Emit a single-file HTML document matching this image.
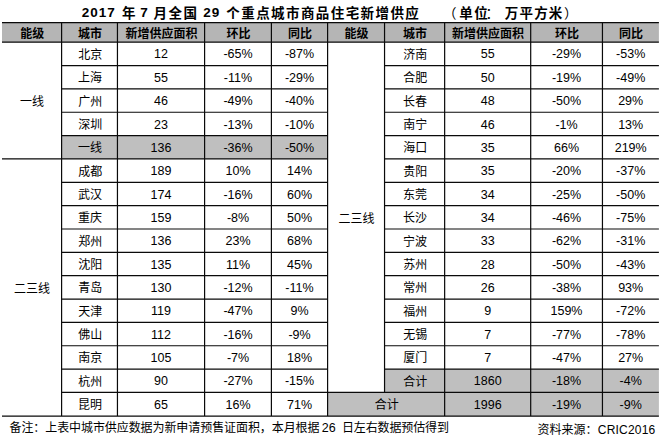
<!DOCTYPE html>
<html lang="zh-CN"><head><meta charset="utf-8"><title>2017年7月全国29个重点城市商品住宅新增供应</title>
<style>
html,body{margin:0;padding:0;background:#fff}
body{width:662px;height:446px;position:relative;overflow:hidden;font-family:"Liberation Sans",sans-serif;color:#000}
svg.t{position:absolute;overflow:visible;display:block}
svg.t text{font-family:"Liberation Sans","Noto Sans CJK SC",sans-serif;fill:#000;text-anchor:middle;font-size:12px}
svg.t text.h{font-weight:bold}
svg.t text.n{font-size:12.5px}
svg.t text.tt{font-weight:bold;font-size:13.5px;text-anchor:start}
svg.t text.s{text-anchor:start}
</style></head>
<body>
<svg class="t" style="left:0;top:0" width="662" height="446" viewBox="0 0 662 446"><rect x="2" y="22.55" width="656.9" height="19.65" fill="#b5b5b5"/><rect x="61.6" y="135.6" width="266" height="23.35" fill="#bfbfbf"/><rect x="384.55" y="369.1" width="274.35" height="23.25" fill="#bfbfbf"/><rect x="327.6" y="392.35" width="331.3" height="23.8" fill="#bfbfbf"/><path d="M2 22.55H658.9M2 42.2H658.9M2 416.15H658.9M61 65.55H328.2M383.95 65.55H658.9M61 88.9H328.2M383.95 88.9H658.9M61 112.25H328.2M383.95 112.25H658.9M61 135.6H328.2M383.95 135.6H658.9M2 158.95H328.2M383.95 158.95H658.9M61 182.3H328.2M383.95 182.3H658.9M61 205.65H328.2M383.95 205.65H658.9M61 229H328.2M383.95 229H658.9M61 252.35H328.2M383.95 252.35H658.9M61 275.7H328.2M383.95 275.7H658.9M61 299.05H328.2M383.95 299.05H658.9M61 322.4H328.2M383.95 322.4H658.9M61 345.75H328.2M383.95 345.75H658.9M61 369.1H328.2M383.95 369.1H658.9M61 392.35H328.2M327 392.35H658.9M61.6 21.95V416.75M117.45 21.95V416.75M204.6 21.95V416.75M271.4 21.95V416.75M327.6 21.95V416.75M384.55 21.95V392.95M444.65 21.95V416.75M530.7 21.95V416.75M602.45 21.95V416.75" stroke="#0a0a0a" stroke-width="1.2" fill="none"/></svg>
<svg class="t" role="img" aria-label="能级" style="left:18px;top:26px" width="29" height="16" viewBox="0 0 29 16"><title>能级</title><text class="h" x="14.2" y="12">能级</text></svg>
<svg class="t" role="img" aria-label="城市" style="left:76px;top:26px" width="29" height="16" viewBox="0 0 29 16"><title>城市</title><text class="h" x="14" y="12">城市</text></svg>
<svg class="t" role="img" aria-label="新增供应面积" style="left:125px;top:26px" width="74" height="16" viewBox="0 0 74 16"><title>新增供应面积</title><text class="h" x="36.5" y="12">新增供应面积</text></svg>
<svg class="t" role="img" aria-label="环比" style="left:225px;top:26px" width="28" height="16" viewBox="0 0 28 16"><title>环比</title><text class="h" x="13.4" y="12">环比</text></svg>
<svg class="t" role="img" aria-label="同比" style="left:286px;top:26px" width="28" height="16" viewBox="0 0 28 16"><title>同比</title><text class="h" x="13.9" y="12">同比</text></svg>
<svg class="t" role="img" aria-label="能级" style="left:343px;top:26px" width="28" height="16" viewBox="0 0 28 16"><title>能级</title><text class="h" x="13.5" y="12">能级</text></svg>
<svg class="t" role="img" aria-label="城市" style="left:401px;top:26px" width="29" height="16" viewBox="0 0 29 16"><title>城市</title><text class="h" x="14" y="12">城市</text></svg>
<svg class="t" role="img" aria-label="新增供应面积" style="left:451px;top:26px" width="75" height="16" viewBox="0 0 75 16"><title>新增供应面积</title><text class="h" x="37" y="12">新增供应面积</text></svg>
<svg class="t" role="img" aria-label="环比" style="left:553px;top:26px" width="29" height="16" viewBox="0 0 29 16"><title>环比</title><text class="h" x="14" y="12">环比</text></svg>
<svg class="t" role="img" aria-label="同比" style="left:617px;top:26px" width="29" height="16" viewBox="0 0 29 16"><title>同比</title><text class="h" x="14" y="12">同比</text></svg>
<svg class="t" role="img" aria-label="北京" style="left:78px;top:47px" width="26" height="16" viewBox="0 0 26 16"><title>北京</title><text x="12.3" y="12">北京</text></svg>
<svg class="t" role="img" aria-label="12" style="left:153px;top:44px" width="16" height="20" viewBox="0 0 16 20"><title>12</title><text class="n" x="8" y="14.4">12</text></svg>
<svg class="t" role="img" aria-label="-65%" style="left:223px;top:44px" width="30" height="20" viewBox="0 0 30 20"><title>-65%</title><text class="n" x="15" y="14.4">-65%</text></svg>
<svg class="t" role="img" aria-label="-87%" style="left:285px;top:44px" width="30" height="20" viewBox="0 0 30 20"><title>-87%</title><text class="n" x="14.5" y="14.4">-87%</text></svg>
<svg class="t" role="img" aria-label="上海" style="left:77px;top:70px" width="26" height="16" viewBox="0 0 26 16"><title>上海</title><text x="13" y="12">上海</text></svg>
<svg class="t" role="img" aria-label="55" style="left:153px;top:68px" width="17" height="19" viewBox="0 0 17 19"><title>55</title><text class="n" x="8" y="13.8">55</text></svg>
<svg class="t" role="img" aria-label="-11%" style="left:223px;top:68px" width="30" height="19" viewBox="0 0 30 19"><title>-11%</title><text class="n" x="15" y="13.8">-11%</text></svg>
<svg class="t" role="img" aria-label="-29%" style="left:285px;top:68px" width="30" height="19" viewBox="0 0 30 19"><title>-29%</title><text class="n" x="14.5" y="13.8">-29%</text></svg>
<svg class="t" role="img" aria-label="广州" style="left:78px;top:94px" width="26" height="16" viewBox="0 0 26 16"><title>广州</title><text x="12.3" y="12">广州</text></svg>
<svg class="t" role="img" aria-label="46" style="left:153px;top:91px" width="17" height="20" viewBox="0 0 17 20"><title>46</title><text class="n" x="8" y="14.2">46</text></svg>
<svg class="t" role="img" aria-label="-49%" style="left:223px;top:91px" width="30" height="20" viewBox="0 0 30 20"><title>-49%</title><text class="n" x="15" y="14.2">-49%</text></svg>
<svg class="t" role="img" aria-label="-40%" style="left:285px;top:91px" width="30" height="20" viewBox="0 0 30 20"><title>-40%</title><text class="n" x="14.5" y="14.2">-40%</text></svg>
<svg class="t" role="img" aria-label="深圳" style="left:78px;top:117px" width="26" height="16" viewBox="0 0 26 16"><title>深圳</title><text x="12.3" y="12">深圳</text></svg>
<svg class="t" role="img" aria-label="23" style="left:153px;top:114px" width="17" height="20" viewBox="0 0 17 20"><title>23</title><text class="n" x="8" y="14.5">23</text></svg>
<svg class="t" role="img" aria-label="-13%" style="left:223px;top:114px" width="30" height="20" viewBox="0 0 30 20"><title>-13%</title><text class="n" x="15" y="14.5">-13%</text></svg>
<svg class="t" role="img" aria-label="-10%" style="left:285px;top:114px" width="30" height="20" viewBox="0 0 30 20"><title>-10%</title><text class="n" x="14.5" y="14.5">-10%</text></svg>
<svg class="t" role="img" aria-label="一线" style="left:77px;top:140px" width="26" height="16" viewBox="0 0 26 16"><title>一线</title><text x="13" y="12.2">一线</text></svg>
<svg class="t" role="img" aria-label="136" style="left:149px;top:138px" width="24" height="19" viewBox="0 0 24 19"><title>136</title><text class="n" x="12" y="13.9">136</text></svg>
<svg class="t" role="img" aria-label="-36%" style="left:223px;top:138px" width="30" height="19" viewBox="0 0 30 19"><title>-36%</title><text class="n" x="15" y="13.9">-36%</text></svg>
<svg class="t" role="img" aria-label="-50%" style="left:285px;top:138px" width="30" height="19" viewBox="0 0 30 19"><title>-50%</title><text class="n" x="14.5" y="13.9">-50%</text></svg>
<svg class="t" role="img" aria-label="成都" style="left:78px;top:164px" width="26" height="16" viewBox="0 0 26 16"><title>成都</title><text x="12.3" y="11.8">成都</text></svg>
<svg class="t" role="img" aria-label="189" style="left:149px;top:161px" width="24" height="20" viewBox="0 0 24 20"><title>189</title><text class="n" x="12" y="14.2">189</text></svg>
<svg class="t" role="img" aria-label="10%" style="left:225px;top:161px" width="25" height="20" viewBox="0 0 25 20"><title>10%</title><text class="n" x="13" y="14.2">10%</text></svg>
<svg class="t" role="img" aria-label="14%" style="left:287px;top:161px" width="25" height="20" viewBox="0 0 25 20"><title>14%</title><text class="n" x="12.5" y="14.2">14%</text></svg>
<svg class="t" role="img" aria-label="武汉" style="left:77px;top:187px" width="26" height="16" viewBox="0 0 26 16"><title>武汉</title><text x="13" y="12">武汉</text></svg>
<svg class="t" role="img" aria-label="174" style="left:149px;top:184px" width="24" height="20" viewBox="0 0 24 20"><title>174</title><text class="n" x="12" y="14.6">174</text></svg>
<svg class="t" role="img" aria-label="-16%" style="left:223px;top:184px" width="30" height="20" viewBox="0 0 30 20"><title>-16%</title><text class="n" x="15" y="14.6">-16%</text></svg>
<svg class="t" role="img" aria-label="60%" style="left:287px;top:184px" width="26" height="20" viewBox="0 0 26 20"><title>60%</title><text class="n" x="12.5" y="14.6">60%</text></svg>
<svg class="t" role="img" aria-label="重庆" style="left:77px;top:210px" width="26" height="16" viewBox="0 0 26 16"><title>重庆</title><text x="13" y="12.2">重庆</text></svg>
<svg class="t" role="img" aria-label="159" style="left:149px;top:208px" width="24" height="20" viewBox="0 0 24 20"><title>159</title><text class="n" x="12" y="13.9">159</text></svg>
<svg class="t" role="img" aria-label="-8%" style="left:227px;top:208px" width="23" height="20" viewBox="0 0 23 20"><title>-8%</title><text class="n" x="11" y="13.9">-8%</text></svg>
<svg class="t" role="img" aria-label="50%" style="left:287px;top:208px" width="26" height="20" viewBox="0 0 26 20"><title>50%</title><text class="n" x="12.5" y="13.9">50%</text></svg>
<svg class="t" role="img" aria-label="郑州" style="left:78px;top:234px" width="26" height="16" viewBox="0 0 26 16"><title>郑州</title><text x="12.3" y="11.8">郑州</text></svg>
<svg class="t" role="img" aria-label="136" style="left:149px;top:231px" width="24" height="20" viewBox="0 0 24 20"><title>136</title><text class="n" x="12" y="14.3">136</text></svg>
<svg class="t" role="img" aria-label="23%" style="left:226px;top:231px" width="25" height="20" viewBox="0 0 25 20"><title>23%</title><text class="n" x="12" y="14.3">23%</text></svg>
<svg class="t" role="img" aria-label="68%" style="left:287px;top:231px" width="26" height="20" viewBox="0 0 26 20"><title>68%</title><text class="n" x="12.5" y="14.3">68%</text></svg>
<svg class="t" role="img" aria-label="沈阳" style="left:78px;top:257px" width="26" height="16" viewBox="0 0 26 16"><title>沈阳</title><text x="12.3" y="12">沈阳</text></svg>
<svg class="t" role="img" aria-label="135" style="left:149px;top:255px" width="24" height="19" viewBox="0 0 24 19"><title>135</title><text class="n" x="12" y="13.6">135</text></svg>
<svg class="t" role="img" aria-label="11%" style="left:225px;top:255px" width="25" height="19" viewBox="0 0 25 19"><title>11%</title><text class="n" x="13" y="13.6">11%</text></svg>
<svg class="t" role="img" aria-label="45%" style="left:287px;top:255px" width="26" height="19" viewBox="0 0 26 19"><title>45%</title><text class="n" x="12.5" y="13.6">45%</text></svg>
<svg class="t" role="img" aria-label="青岛" style="left:78px;top:280px" width="26" height="16" viewBox="0 0 26 16"><title>青岛</title><text x="12.3" y="12.4">青岛</text></svg>
<svg class="t" role="img" aria-label="130" style="left:149px;top:278px" width="24" height="20" viewBox="0 0 24 20"><title>130</title><text class="n" x="12" y="14">130</text></svg>
<svg class="t" role="img" aria-label="-12%" style="left:223px;top:278px" width="30" height="20" viewBox="0 0 30 20"><title>-12%</title><text class="n" x="15" y="14">-12%</text></svg>
<svg class="t" role="img" aria-label="-11%" style="left:285px;top:278px" width="30" height="20" viewBox="0 0 30 20"><title>-11%</title><text class="n" x="14.5" y="14">-11%</text></svg>
<svg class="t" role="img" aria-label="天津" style="left:78px;top:304px" width="26" height="16" viewBox="0 0 26 16"><title>天津</title><text x="12.3" y="11.8">天津</text></svg>
<svg class="t" role="img" aria-label="119" style="left:149px;top:301px" width="24" height="20" viewBox="0 0 24 20"><title>119</title><text class="n" x="12" y="14.3">119</text></svg>
<svg class="t" role="img" aria-label="-47%" style="left:223px;top:301px" width="30" height="20" viewBox="0 0 30 20"><title>-47%</title><text class="n" x="15" y="14.3">-47%</text></svg>
<svg class="t" role="img" aria-label="9%" style="left:291px;top:301px" width="18" height="20" viewBox="0 0 18 20"><title>9%</title><text class="n" x="8.5" y="14.3">9%</text></svg>
<svg class="t" role="img" aria-label="佛山" style="left:78px;top:327px" width="26" height="16" viewBox="0 0 26 16"><title>佛山</title><text x="12.3" y="12">佛山</text></svg>
<svg class="t" role="img" aria-label="112" style="left:149px;top:325px" width="24" height="19" viewBox="0 0 24 19"><title>112</title><text class="n" x="12" y="13.7">112</text></svg>
<svg class="t" role="img" aria-label="-16%" style="left:223px;top:325px" width="30" height="19" viewBox="0 0 30 19"><title>-16%</title><text class="n" x="15" y="13.7">-16%</text></svg>
<svg class="t" role="img" aria-label="-9%" style="left:289px;top:325px" width="22" height="19" viewBox="0 0 22 19"><title>-9%</title><text class="n" x="10.5" y="13.7">-9%</text></svg>
<svg class="t" role="img" aria-label="南京" style="left:78px;top:350px" width="26" height="16" viewBox="0 0 26 16"><title>南京</title><text x="12.3" y="12.4">南京</text></svg>
<svg class="t" role="img" aria-label="105" style="left:149px;top:348px" width="24" height="20" viewBox="0 0 24 20"><title>105</title><text class="n" x="12" y="14">105</text></svg>
<svg class="t" role="img" aria-label="-7%" style="left:227px;top:348px" width="23" height="20" viewBox="0 0 23 20"><title>-7%</title><text class="n" x="11" y="14">-7%</text></svg>
<svg class="t" role="img" aria-label="18%" style="left:287px;top:348px" width="25" height="20" viewBox="0 0 25 20"><title>18%</title><text class="n" x="12.5" y="14">18%</text></svg>
<svg class="t" role="img" aria-label="杭州" style="left:78px;top:374px" width="26" height="16" viewBox="0 0 26 16"><title>杭州</title><text x="12.3" y="11.8">杭州</text></svg>
<svg class="t" role="img" aria-label="90" style="left:153px;top:371px" width="17" height="20" viewBox="0 0 17 20"><title>90</title><text class="n" x="8" y="14.3">90</text></svg>
<svg class="t" role="img" aria-label="-27%" style="left:223px;top:371px" width="30" height="20" viewBox="0 0 30 20"><title>-27%</title><text class="n" x="15" y="14.3">-27%</text></svg>
<svg class="t" role="img" aria-label="-15%" style="left:285px;top:371px" width="30" height="20" viewBox="0 0 30 20"><title>-15%</title><text class="n" x="14.5" y="14.3">-15%</text></svg>
<svg class="t" role="img" aria-label="昆明" style="left:77px;top:397px" width="26" height="16" viewBox="0 0 26 16"><title>昆明</title><text x="13" y="12.2">昆明</text></svg>
<svg class="t" role="img" aria-label="65" style="left:153px;top:395px" width="17" height="19" viewBox="0 0 17 19"><title>65</title><text class="n" x="8" y="13.9">65</text></svg>
<svg class="t" role="img" aria-label="16%" style="left:225px;top:395px" width="25" height="19" viewBox="0 0 25 19"><title>16%</title><text class="n" x="13" y="13.9">16%</text></svg>
<svg class="t" role="img" aria-label="71%" style="left:287px;top:395px" width="26" height="19" viewBox="0 0 26 19"><title>71%</title><text class="n" x="12.5" y="13.9">71%</text></svg>
<svg class="t" role="img" aria-label="济南" style="left:403px;top:47px" width="26" height="16" viewBox="0 0 26 16"><title>济南</title><text x="12.3" y="11.9">济南</text></svg>
<svg class="t" role="img" aria-label="55" style="left:480px;top:44px" width="16" height="20" viewBox="0 0 16 20"><title>55</title><text class="n" x="7.7" y="14.4">55</text></svg>
<svg class="t" role="img" aria-label="-29%" style="left:552px;top:44px" width="30" height="20" viewBox="0 0 30 20"><title>-29%</title><text class="n" x="14.5" y="14.4">-29%</text></svg>
<svg class="t" role="img" aria-label="-53%" style="left:616px;top:44px" width="30" height="20" viewBox="0 0 30 20"><title>-53%</title><text class="n" x="14.7" y="14.4">-53%</text></svg>
<svg class="t" role="img" aria-label="合肥" style="left:403px;top:70px" width="26" height="16" viewBox="0 0 26 16"><title>合肥</title><text x="12.3" y="12.2">合肥</text></svg>
<svg class="t" role="img" aria-label="50" style="left:480px;top:68px" width="16" height="19" viewBox="0 0 16 19"><title>50</title><text class="n" x="7.7" y="13.8">50</text></svg>
<svg class="t" role="img" aria-label="-19%" style="left:552px;top:68px" width="30" height="19" viewBox="0 0 30 19"><title>-19%</title><text class="n" x="14.5" y="13.8">-19%</text></svg>
<svg class="t" role="img" aria-label="-49%" style="left:616px;top:68px" width="30" height="19" viewBox="0 0 30 19"><title>-49%</title><text class="n" x="14.7" y="13.8">-49%</text></svg>
<svg class="t" role="img" aria-label="长春" style="left:402px;top:94px" width="26" height="16" viewBox="0 0 26 16"><title>长春</title><text x="13" y="11.7">长春</text></svg>
<svg class="t" role="img" aria-label="48" style="left:480px;top:91px" width="16" height="20" viewBox="0 0 16 20"><title>48</title><text class="n" x="7.7" y="14.2">48</text></svg>
<svg class="t" role="img" aria-label="-50%" style="left:552px;top:91px" width="30" height="20" viewBox="0 0 30 20"><title>-50%</title><text class="n" x="14.5" y="14.2">-50%</text></svg>
<svg class="t" role="img" aria-label="29%" style="left:618px;top:91px" width="26" height="20" viewBox="0 0 26 20"><title>29%</title><text class="n" x="12.7" y="14.2">29%</text></svg>
<svg class="t" role="img" aria-label="南宁" style="left:403px;top:117px" width="26" height="16" viewBox="0 0 26 16"><title>南宁</title><text x="12.3" y="11.9">南宁</text></svg>
<svg class="t" role="img" aria-label="46" style="left:480px;top:114px" width="16" height="20" viewBox="0 0 16 20"><title>46</title><text class="n" x="7.7" y="14.5">46</text></svg>
<svg class="t" role="img" aria-label="-1%" style="left:556px;top:114px" width="22" height="20" viewBox="0 0 22 20"><title>-1%</title><text class="n" x="10.5" y="14.5">-1%</text></svg>
<svg class="t" role="img" aria-label="13%" style="left:618px;top:114px" width="25" height="20" viewBox="0 0 25 20"><title>13%</title><text class="n" x="12.7" y="14.5">13%</text></svg>
<svg class="t" role="img" aria-label="海口" style="left:403px;top:140px" width="26" height="16" viewBox="0 0 26 16"><title>海口</title><text x="12.3" y="12.2">海口</text></svg>
<svg class="t" role="img" aria-label="35" style="left:480px;top:138px" width="16" height="19" viewBox="0 0 16 19"><title>35</title><text class="n" x="7.7" y="13.9">35</text></svg>
<svg class="t" role="img" aria-label="66%" style="left:554px;top:138px" width="26" height="19" viewBox="0 0 26 19"><title>66%</title><text class="n" x="12.5" y="13.9">66%</text></svg>
<svg class="t" role="img" aria-label="219%" style="left:615px;top:138px" width="32" height="19" viewBox="0 0 32 19"><title>219%</title><text class="n" x="15.7" y="13.9">219%</text></svg>
<svg class="t" role="img" aria-label="贵阳" style="left:403px;top:164px" width="26" height="16" viewBox="0 0 26 16"><title>贵阳</title><text x="12.3" y="11.7">贵阳</text></svg>
<svg class="t" role="img" aria-label="35" style="left:480px;top:161px" width="16" height="20" viewBox="0 0 16 20"><title>35</title><text class="n" x="7.7" y="14.2">35</text></svg>
<svg class="t" role="img" aria-label="-20%" style="left:552px;top:161px" width="30" height="20" viewBox="0 0 30 20"><title>-20%</title><text class="n" x="14.5" y="14.2">-20%</text></svg>
<svg class="t" role="img" aria-label="-37%" style="left:616px;top:161px" width="30" height="20" viewBox="0 0 30 20"><title>-37%</title><text class="n" x="14.7" y="14.2">-37%</text></svg>
<svg class="t" role="img" aria-label="东莞" style="left:402px;top:187px" width="26" height="16" viewBox="0 0 26 16"><title>东莞</title><text x="13" y="12">东莞</text></svg>
<svg class="t" role="img" aria-label="34" style="left:480px;top:184px" width="16" height="20" viewBox="0 0 16 20"><title>34</title><text class="n" x="7.7" y="14.6">34</text></svg>
<svg class="t" role="img" aria-label="-25%" style="left:552px;top:184px" width="30" height="20" viewBox="0 0 30 20"><title>-25%</title><text class="n" x="14.5" y="14.6">-25%</text></svg>
<svg class="t" role="img" aria-label="-50%" style="left:616px;top:184px" width="30" height="20" viewBox="0 0 30 20"><title>-50%</title><text class="n" x="14.7" y="14.6">-50%</text></svg>
<svg class="t" role="img" aria-label="长沙" style="left:402px;top:210px" width="26" height="16" viewBox="0 0 26 16"><title>长沙</title><text x="13" y="12.3">长沙</text></svg>
<svg class="t" role="img" aria-label="34" style="left:480px;top:208px" width="16" height="20" viewBox="0 0 16 20"><title>34</title><text class="n" x="7.7" y="13.9">34</text></svg>
<svg class="t" role="img" aria-label="-46%" style="left:552px;top:208px" width="30" height="20" viewBox="0 0 30 20"><title>-46%</title><text class="n" x="14.5" y="13.9">-46%</text></svg>
<svg class="t" role="img" aria-label="-75%" style="left:616px;top:208px" width="30" height="20" viewBox="0 0 30 20"><title>-75%</title><text class="n" x="14.7" y="13.9">-75%</text></svg>
<svg class="t" role="img" aria-label="宁波" style="left:402px;top:234px" width="26" height="16" viewBox="0 0 26 16"><title>宁波</title><text x="13" y="11.7">宁波</text></svg>
<svg class="t" role="img" aria-label="33" style="left:480px;top:231px" width="16" height="20" viewBox="0 0 16 20"><title>33</title><text class="n" x="7.7" y="14.3">33</text></svg>
<svg class="t" role="img" aria-label="-62%" style="left:552px;top:231px" width="30" height="20" viewBox="0 0 30 20"><title>-62%</title><text class="n" x="14.5" y="14.3">-62%</text></svg>
<svg class="t" role="img" aria-label="-31%" style="left:616px;top:231px" width="30" height="20" viewBox="0 0 30 20"><title>-31%</title><text class="n" x="14.7" y="14.3">-31%</text></svg>
<svg class="t" role="img" aria-label="苏州" style="left:403px;top:257px" width="26" height="16" viewBox="0 0 26 16"><title>苏州</title><text x="12.3" y="12">苏州</text></svg>
<svg class="t" role="img" aria-label="28" style="left:480px;top:255px" width="16" height="19" viewBox="0 0 16 19"><title>28</title><text class="n" x="7.7" y="13.6">28</text></svg>
<svg class="t" role="img" aria-label="-50%" style="left:552px;top:255px" width="30" height="19" viewBox="0 0 30 19"><title>-50%</title><text class="n" x="14.5" y="13.6">-50%</text></svg>
<svg class="t" role="img" aria-label="-43%" style="left:616px;top:255px" width="30" height="19" viewBox="0 0 30 19"><title>-43%</title><text class="n" x="14.7" y="13.6">-43%</text></svg>
<svg class="t" role="img" aria-label="常州" style="left:403px;top:280px" width="26" height="16" viewBox="0 0 26 16"><title>常州</title><text x="12.3" y="12.4">常州</text></svg>
<svg class="t" role="img" aria-label="26" style="left:480px;top:278px" width="16" height="20" viewBox="0 0 16 20"><title>26</title><text class="n" x="7.7" y="14">26</text></svg>
<svg class="t" role="img" aria-label="-38%" style="left:552px;top:278px" width="30" height="20" viewBox="0 0 30 20"><title>-38%</title><text class="n" x="14.5" y="14">-38%</text></svg>
<svg class="t" role="img" aria-label="93%" style="left:618px;top:278px" width="26" height="20" viewBox="0 0 26 20"><title>93%</title><text class="n" x="12.7" y="14">93%</text></svg>
<svg class="t" role="img" aria-label="福州" style="left:403px;top:304px" width="26" height="16" viewBox="0 0 26 16"><title>福州</title><text x="12.3" y="11.8">福州</text></svg>
<svg class="t" role="img" aria-label="9" style="left:484px;top:301px" width="9" height="20" viewBox="0 0 9 20"><title>9</title><text class="n" x="3.7" y="14.3">9</text></svg>
<svg class="t" role="img" aria-label="159%" style="left:550px;top:301px" width="33" height="20" viewBox="0 0 33 20"><title>159%</title><text class="n" x="16.5" y="14.3">159%</text></svg>
<svg class="t" role="img" aria-label="-72%" style="left:616px;top:301px" width="30" height="20" viewBox="0 0 30 20"><title>-72%</title><text class="n" x="14.7" y="14.3">-72%</text></svg>
<svg class="t" role="img" aria-label="无锡" style="left:403px;top:327px" width="26" height="16" viewBox="0 0 26 16"><title>无锡</title><text x="12.3" y="12">无锡</text></svg>
<svg class="t" role="img" aria-label="7" style="left:484px;top:325px" width="9" height="19" viewBox="0 0 9 19"><title>7</title><text class="n" x="3.7" y="13.7">7</text></svg>
<svg class="t" role="img" aria-label="-77%" style="left:552px;top:325px" width="30" height="19" viewBox="0 0 30 19"><title>-77%</title><text class="n" x="14.5" y="13.7">-77%</text></svg>
<svg class="t" role="img" aria-label="-78%" style="left:616px;top:325px" width="30" height="19" viewBox="0 0 30 19"><title>-78%</title><text class="n" x="14.7" y="13.7">-78%</text></svg>
<svg class="t" role="img" aria-label="厦门" style="left:403px;top:350px" width="26" height="16" viewBox="0 0 26 16"><title>厦门</title><text x="12.3" y="12.4">厦门</text></svg>
<svg class="t" role="img" aria-label="7" style="left:484px;top:348px" width="9" height="20" viewBox="0 0 9 20"><title>7</title><text class="n" x="3.7" y="14">7</text></svg>
<svg class="t" role="img" aria-label="-47%" style="left:552px;top:348px" width="30" height="20" viewBox="0 0 30 20"><title>-47%</title><text class="n" x="14.5" y="14">-47%</text></svg>
<svg class="t" role="img" aria-label="27%" style="left:618px;top:348px" width="26" height="20" viewBox="0 0 26 20"><title>27%</title><text class="n" x="12.7" y="14">27%</text></svg>
<svg class="t" role="img" aria-label="合计" style="left:403px;top:374px" width="26" height="16" viewBox="0 0 26 16"><title>合计</title><text x="12.3" y="11.7">合计</text></svg>
<svg class="t" role="img" aria-label="1860" style="left:472px;top:371px" width="31" height="20" viewBox="0 0 31 20"><title>1860</title><text class="n" x="15.7" y="14.3">1860</text></svg>
<svg class="t" role="img" aria-label="-18%" style="left:552px;top:371px" width="30" height="20" viewBox="0 0 30 20"><title>-18%</title><text class="n" x="14.5" y="14.3">-18%</text></svg>
<svg class="t" role="img" aria-label="-4%" style="left:620px;top:371px" width="22" height="20" viewBox="0 0 22 20"><title>-4%</title><text class="n" x="10.7" y="14.3">-4%</text></svg>
<svg class="t" role="img" aria-label="合计" style="left:374px;top:397px" width="26" height="16" viewBox="0 0 26 16"><title>合计</title><text x="12.7" y="12.2">合计</text></svg>
<svg class="t" role="img" aria-label="1996" style="left:472px;top:395px" width="31" height="19" viewBox="0 0 31 19"><title>1996</title><text class="n" x="15.7" y="13.9">1996</text></svg>
<svg class="t" role="img" aria-label="-19%" style="left:552px;top:395px" width="30" height="19" viewBox="0 0 30 19"><title>-19%</title><text class="n" x="14.5" y="13.9">-19%</text></svg>
<svg class="t" role="img" aria-label="-9%" style="left:620px;top:395px" width="22" height="19" viewBox="0 0 22 19"><title>-9%</title><text class="n" x="10.7" y="13.9">-9%</text></svg>
<svg class="t" role="img" aria-label="一线" style="left:20px;top:94px" width="26" height="16" viewBox="0 0 26 16"><title>一线</title><text x="12.1" y="12">一线</text></svg>
<svg class="t" role="img" aria-label="二三线" style="left:13px;top:281px" width="38" height="16" viewBox="0 0 38 16"><title>二三线</title><text x="19" y="12">二三线</text></svg>
<svg class="t" role="img" aria-label="二三线" style="left:338px;top:211px" width="38" height="16" viewBox="0 0 38 16"><title>二三线</title><text x="18.4" y="11.7">二三线</text></svg>
<svg class="t" role="img" aria-label="2017" style="left:80px;top:3px" width="37" height="19" viewBox="0 0 37 19"><title>2017</title><text class="tt" x="1.8" y="13.7" textLength="33" lengthAdjust="spacing">2017</text></svg>
<svg class="t" role="img" aria-label="年" style="left:121px;top:4px" width="17" height="18" viewBox="0 0 17 18"><title>年</title><text class="tt" x="0.9" y="13.6">年</text></svg>
<svg class="t" role="img" aria-label="7" style="left:139px;top:3px" width="11" height="19" viewBox="0 0 11 19"><title>7</title><text class="tt" x="1.2" y="13.7">7</text></svg>
<svg class="t" role="img" aria-label="月全国" style="left:145px;top:4px" width="61" height="18" viewBox="0 0 61 18"><title>月全国</title><text class="tt" x="8.6" y="13.6" textLength="43.5" lengthAdjust="spacing">月全国</text></svg>
<svg class="t" role="img" aria-label="29" style="left:202px;top:3px" width="19" height="19" viewBox="0 0 19 19"><title>29</title><text class="tt" x="1.2" y="13.7" textLength="16" lengthAdjust="spacing">29</text></svg>
<svg class="t" role="img" aria-label="个重点城市商品住宅新增供应" style="left:219px;top:4px" width="208" height="18" viewBox="0 0 208 18"><title>个重点城市商品住宅新增供应</title><text class="tt" x="7.3" y="13.6" textLength="192.5" lengthAdjust="spacing">个重点城市商品住宅新增供应</text></svg>
<svg class="t" role="img" aria-label="单位万平方米" style="left:452px;top:4px" width="119" height="18" viewBox="0 0 119 18"><title>单位万平方米</title><text class="tt" x="7.2" y="13.6" textLength="28.6" lengthAdjust="spacing">单位</text><text class="tt" x="52.8" y="13.6" textLength="57.5" lengthAdjust="spacing">万平方米</text></svg>
<svg class="t" role="img" aria-label="（：）" style="left:440px;top:4px" width="142" height="19" viewBox="0 0 142 19"><title>（：）</title><text class="tt" x="3" y="13.6" style="font-weight:normal">（</text><text class="tt" x="45.5" y="13.6" style="font-weight:normal">：</text><text class="tt" x="124" y="13.6" style="font-weight:normal">）</text></svg>
<svg class="t" role="img" aria-label="备注：上表中城市供应数据为新申请预售证面积，本月根据" style="left:9px;top:420px" width="312" height="16" viewBox="0 0 312 16"><title>备注：上表中城市供应数据为新申请预售证面积，本月根据</title><text class="s" x="0.5" y="12.2" textLength="310" lengthAdjust="spacing">备注：上表中城市供应数据为新申请预售证面积，本月根据</text></svg>
<svg class="t" role="img" aria-label="26" style="left:320px;top:418px" width="18" height="19" viewBox="0 0 18 19"><title>26</title><text class="n" x="8.8" y="13.9">26</text></svg>
<svg class="t" role="img" aria-label="日左右数据预估得到" style="left:341px;top:420px" width="110" height="16" viewBox="0 0 110 16"><title>日左右数据预估得到</title><text class="s" x="1" y="12.2" textLength="107" lengthAdjust="spacing">日左右数据预估得到</text></svg>
<svg class="t" role="img" aria-label="资料来源：" style="left:537px;top:423px" width="61" height="15" viewBox="0 0 61 15"><title>资料来源：</title><text class="s" x="0.5" y="11.4">资料来源：</text></svg>
<svg class="t" role="img" aria-label="CRIC2016" style="left:597px;top:421px" width="60" height="19" viewBox="0 0 60 19"><title>CRIC2016</title><text class="s" x="0.8" y="13.3" textLength="57.4" lengthAdjust="spacing">CRIC2016</text></svg>
</body></html>
